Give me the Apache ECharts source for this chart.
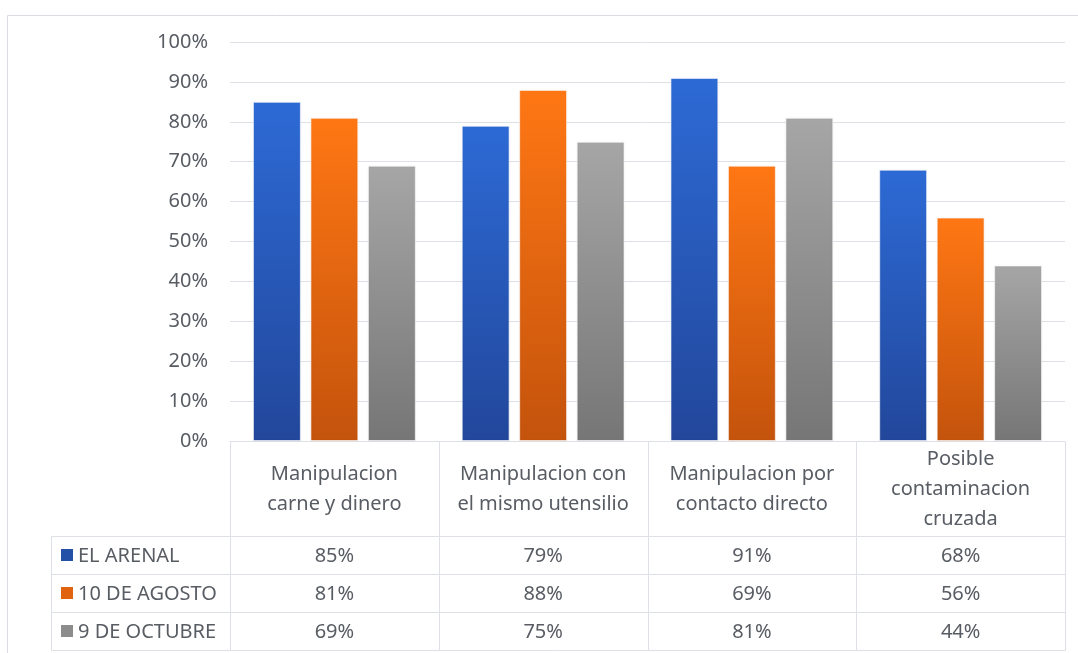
<!DOCTYPE html>
<html>
<head>
<meta charset="utf-8">
<script src="https://cdn.jsdelivr.net/npm/echarts@6/dist/echarts.min.js"></script>
<style>
html,body{margin:0;padding:0;background:#fff;}
#c{width:1078px;height:653px;}
</style>
</head>
<body>
<div id="c"></div>
<script>
// ---- data ----
var categories = ['Manipulacion\ncarne y dinero', 'Manipulacion con\nel mismo utensilio', 'Manipulacion por\ncontacto directo', 'Posible\ncontaminacion\ncruzada'];
var seriesNames = ['EL ARENAL', '10 DE AGOSTO', '9 DE OCTUBRE'];
var elArenal = [85, 79, 91, 68];
var diezAgosto = [81, 88, 69, 56];
var nueveOctubre = [69, 75, 81, 44];
var yTicks = [0, 10, 20, 30, 40, 50, 60, 70, 80, 90, 100];

var seriesData = [elArenal, diezAgosto, nueveOctubre];
var gradients = [
  ['#2D6AD5', '#22479B'],
  ['#FF7714', '#C4530C'],
  ['#A6A6A6', '#767676']
];
var swatch = ['#2550A8', '#E0640F', '#8C8C8C'];
var FONT = 'Noto Sans';
var FS = 20;
var TXT = '#585c63';
var LINE = '#DDE1E6';

var chart = echarts.init(document.getElementById('c'), null, {renderer: 'canvas'});

var series = seriesData.map(function (d, i) {
  return {
    name: seriesNames[i],
    type: 'bar',
    data: d,
    barGap: '20%',
    barCategoryGap: '22%',
    itemStyle: {
      color: {type: 'linear', x: 0, y: 0, x2: 0, y2: 1,
        colorStops: [{offset: 0, color: gradients[i][0]}, {offset: 1, color: gradients[i][1]}]},
      borderColor: 'rgba(255,255,255,0.35)',
      borderWidth: 1,
      shadowBlur: 2,
      shadowColor: 'rgba(0,0,0,0.12)'
    },
    silent: true
  };
});

chart.setOption({
  animation: false,
  backgroundColor: '#ffffff',
  grid: {left: 230, right: 13, top: 42, bottom: 212, containLabel: false},
  xAxis: {
    type: 'category',
    data: categories,
    axisLine: {show: true, lineStyle: {color: LINE, width: 1}},
    axisTick: {show: false},
    axisLabel: {
      interval: 0, margin: 48, color: TXT, fontFamily: FONT, fontSize: FS,
      lineHeight: 30, verticalAlign: 'middle', align: 'center'
    }
  },
  yAxis: {
    type: 'value',
    min: yTicks[0], max: yTicks[yTicks.length - 1], interval: yTicks[1] - yTicks[0],
    axisLine: {show: false},
    axisTick: {show: false},
    splitLine: {lineStyle: {color: LINE, width: 1}},
    axisLabel: {formatter: '{value}%', margin: 22, color: TXT, fontFamily: FONT, fontSize: FS}
  },
  series: series
});

// ---- data table under the plot (aligned with the category axis) ----
function buildTable() {
  var c0 = chart.convertToPixel({xAxisIndex: 0}, 0);
  var c1 = chart.convertToPixel({xAxisIndex: 0}, 1);
  var band = c1 - c0;
  var n = categories.length;
  var left = c0 - band / 2;
  var right = left + band * n;
  var top = chart.convertToPixel({yAxisIndex: 0}, 0);
  var headerBottom = 536;
  var rowH = 38;
  var legendLeft = 51;
  var bottom = headerBottom + rowH * seriesNames.length;
  var els = [];
  var ls = {stroke: LINE, lineWidth: 1};
  function r(v) { return Math.round(v) + 0.5; }
  // outer chart frame
  els.push({type: 'rect', shape: {x: 7.5, y: 15.5, width: 1200, height: 800}, style: {fill: null, stroke: '#D9DDE2', lineWidth: 1}, silent: true});
  // vertical lines of category columns
  for (var i = 0; i <= n; i++) {
    var x = r(left + band * i);
    els.push({type: 'line', shape: {x1: x, y1: r(top), x2: x, y2: r(bottom)}, style: ls, silent: true});
  }
  // left border of legend column
  els.push({type: 'line', shape: {x1: r(legendLeft), y1: r(headerBottom), x2: r(legendLeft), y2: r(bottom)}, style: ls, silent: true});
  // horizontal lines
  for (var k = 0; k <= seriesNames.length; k++) {
    var y = r(headerBottom + rowH * k);
    els.push({type: 'line', shape: {x1: r(legendLeft), y1: y, x2: r(right), y2: y}, style: ls, silent: true});
  }
  // rows
  for (var s = 0; s < seriesNames.length; s++) {
    var cy = headerBottom + rowH * s + rowH / 2;
    els.push({type: 'rect', shape: {x: 61, y: Math.round(cy - 6), width: 12, height: 12}, style: {fill: swatch[s]}, silent: true});
    els.push({type: 'text', x: 78, y: cy + 1, style: {text: seriesNames[s], fill: TXT, font: FS + 'px "' + FONT + '"', align: 'left', verticalAlign: 'middle'}, silent: true});
    for (var j = 0; j < n; j++) {
      var cx = chart.convertToPixel({xAxisIndex: 0}, j);
      els.push({type: 'text', x: cx, y: cy + 1, style: {text: seriesData[s][j] + '%', fill: TXT, font: FS + 'px "' + FONT + '"', align: 'center', verticalAlign: 'middle'}, silent: true});
    }
  }
  chart.setOption({graphic: {elements: els}});
}
buildTable();
</script>
</body>
</html>
